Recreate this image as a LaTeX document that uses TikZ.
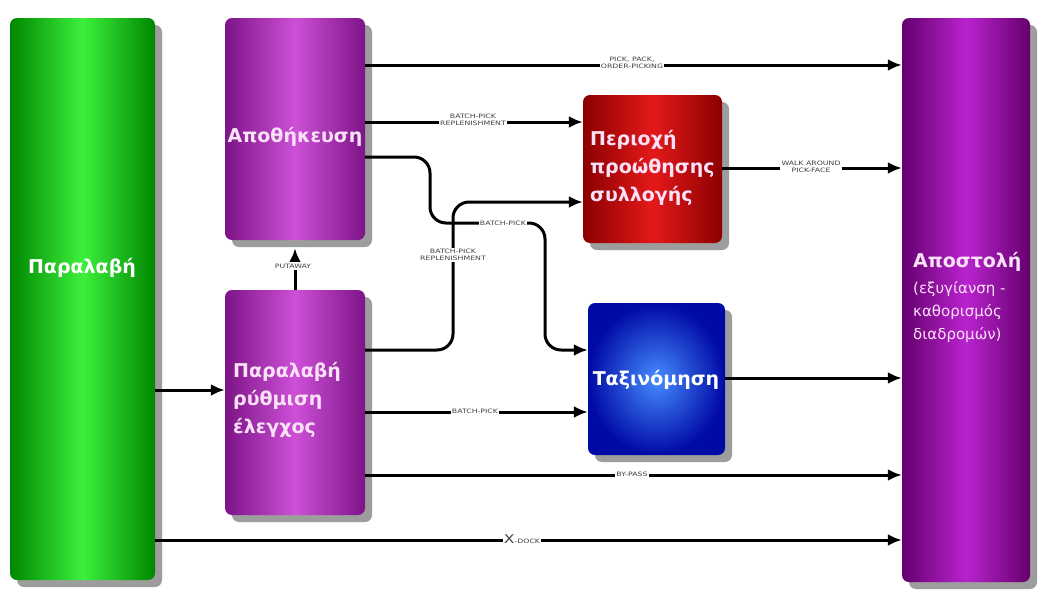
\documentclass[tikz,border=0pt]{standalone}
\usepackage{fontspec}
\setmainfont{DejaVu Sans}
\newfontfamily\lblfont[FakeStretch=1.3]{DejaVu Sans}
\usetikzlibrary{shadows,arrows.meta,calc}
\definecolor{gEdge}{RGB}{0,135,0}
\definecolor{gMid}{RGB}{60,240,60}
\definecolor{pEdge}{RGB}{125,20,135}
\definecolor{pMid}{RGB}{205,80,215}
\definecolor{rEdge}{RGB}{140,0,0}
\definecolor{rMid}{RGB}{228,25,25}
\definecolor{bEdge}{RGB}{0,10,165}
\definecolor{bMid}{RGB}{70,140,255}
\definecolor{sEdge}{RGB}{100,0,110}
\definecolor{sMid}{RGB}{185,35,205}
\definecolor{pinkText}{RGB}{250,225,248}
\begin{document}
\begin{tikzpicture}[x=1pt,y=-1pt,
  box/.style={draw=none, rounded corners=7pt, inner sep=0pt,
    drop shadow={shadow xshift=7pt, shadow yshift=-7pt, fill=black!45, opacity=0.85}},
  conn/.style={line width=3pt, -{Latex[length=14pt,width=12pt]}},
  lbl/.style={fill=white, inner sep=1.3pt, font=\lblfont\fontsize{6}{6.5}\selectfont, text=black!75, align=center},
  big/.style={font=\bfseries\fontsize{19}{28}\selectfont, align=left, inner sep=0pt},
  small/.style={font=\fontsize{15}{23}\selectfont, align=left, inner sep=0pt}]
\useasboundingbox[fill=white] (0,0) rectangle (1042,592);

% boxes
\node[box, minimum width=145pt, minimum height=562pt, left color=gEdge, right color=gEdge, middle color=gMid] (recv) at (82.5,299) {};
\node[box, minimum width=140pt, minimum height=222pt, left color=pEdge, right color=pEdge, middle color=pMid] (store) at (295,129) {};
\node[box, minimum width=140pt, minimum height=225pt, left color=pEdge, right color=pEdge, middle color=pMid] (pre) at (295,402.5) {};
\node[box, minimum width=139pt, minimum height=148pt, left color=rEdge, right color=rEdge, middle color=rMid] (pick) at (652.5,169) {};
\node[box, minimum width=137pt, minimum height=152pt, inner color=bMid, outer color=bEdge] (sort) at (656.5,379) {};
\node[box, minimum width=128pt, minimum height=564pt, left color=sEdge, right color=sEdge, middle color=sMid] (ship) at (966,300) {};

% box texts
\node[big, text=white] (trecv) at (82,268) {Παραλαβή};
\node[big, text=pinkText] (tstore) at (295,137) {Αποθήκευση};
\node[big, text=pinkText, anchor=west] (tpre) at (233,400) {Παραλαβή\\ρύθμιση\\έλεγχος};
\node[big, text=pinkText, anchor=west] (tpick) at (590,168) {Περιοχή\\προώθησης\\συλλογής};
\node[big, text=white] (tsort) at (656,380) {Ταξινόμηση};
\node[big, text=pinkText, anchor=west] (tship) at (913,262) {Αποστολή};
\node[small, text=pinkText, anchor=north west] (tship2) at (913,281) {(εξυγίανση -\\καθορισμός\\διαδρομών)};

% row coordinates
\coordinate (y65) at (0,65);
\coordinate (y122) at (0,122);
\coordinate (y157) at (0,157);
\coordinate (y168) at (0,168);
\coordinate (y202) at (0,202);
\coordinate (y350) at (0,350);
\coordinate (y378) at (0,378);
\coordinate (y390) at (0,390);
\coordinate (y412) at (0,412);
\coordinate (y475) at (0,475);
\coordinate (y540) at (0,540);

% connectors
\draw[conn] (store.east |- y65) -- (ship.west |- y65);
\draw[conn] (store.east |- y122) -- (pick.west |- y122);
\draw[conn, rounded corners=16pt] (store.east |- y157) -- (430,157) -- (430,223) -- (545,223) -- (545,350) -- (sort.west |- y350);
\draw[conn, rounded corners=16pt] (pre.east |- y350) -- (453,350) -- (453,202) -- (pick.west |- y202);
\draw[conn] (pick.east |- y168) -- (ship.west |- y168);
\draw[conn] (pre.north) -- ([yshift=-8pt]store.south);
\draw[conn] (recv.east |- y390) -- (pre.west |- y390);
\draw[conn] (pre.east |- y412) -- (sort.west |- y412);
\draw[conn] (sort.east |- y378) -- (ship.west |- y378);
\draw[conn] (pre.east |- y475) -- (ship.west |- y475);
\draw[conn] (recv.east |- y540) -- (ship.west |- y540);

% connector labels
\node[lbl] (l1) at (632,63) {PICK, PACK,\\ORDER-PICKING};
\node[lbl] (l2) at (473,120) {BATCH-PICK\\REPLENISHMENT};
\node[lbl] (l3) at (503,223) {BATCH-PICK};
\node[lbl] (l4) at (453,255) {BATCH-PICK\\REPLENISHMENT};
\node[lbl] (l5) at (293,266) {PUTAWAY};
\node[lbl] (l6) at (811,167) {WALK AROUND\\PICK-FACE};
\node[lbl] (l7) at (475,411) {BATCH-PICK};
\node[lbl] (l8) at (632,474) {BY-PASS};
\node[lbl, inner sep=1pt] (l9) at (522,539) {{\fontsize{12}{12}\selectfont X}-DOCK};
\end{tikzpicture}
\end{document}
